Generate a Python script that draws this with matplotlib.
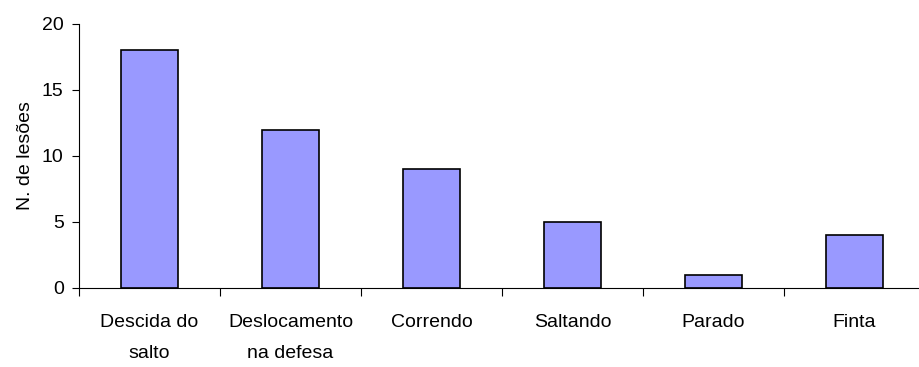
import matplotlib.pyplot as plt
import numpy as np

# Injury counts by movement situation
categories = ['Descida do\nsalto', 'Deslocamento\nna defesa', 'Correndo', 'Saltando', 'Parado', 'Finta']
counts = [18, 12, 9, 5, 1, 4]
y_ticks = [0, 5, 10, 15, 20]

plt.rcParams['font.family'] = ['Liberation Sans', 'DejaVu Sans']
FS = 14

fig = plt.figure(figsize=(9.19, 3.67), dpi=100)
ax = fig.add_axes([79 / 919, 79 / 367, 846 / 919, 264 / 367])

x = np.arange(len(categories))
ax.bar(x, counts, width=0.40, color='#9999FF', edgecolor='black', linewidth=1.2)

ax.set_xlim(-0.5, len(categories) - 0.5)
ax.set_ylim(0, 20)
ax.set_yticks(y_ticks)
ax.tick_params(axis='y', labelsize=FS, length=5, width=0.8, direction='out', pad=6)

# category labels sit between boundary ticks
ax.set_xticks(np.arange(len(categories) + 1) - 0.5)
ax.set_xticklabels([])
ax.set_xticks(x, minor=True)
ax.set_xticklabels(categories, minor=True, fontsize=FS, linespacing=2.05)
ax.tick_params(axis='x', which='major', length=6, width=0.8, direction='out')
ax.tick_params(axis='x', which='minor', length=0, pad=19)

ax.spines['top'].set_visible(False)
ax.spines['right'].set_visible(False)
ax.spines['left'].set_linewidth(0.8)
ax.spines['bottom'].set_linewidth(0.8)

ax.set_ylabel('N. de lesões', fontsize=FS, labelpad=6)

fig.savefig('out.png', dpi=100)
